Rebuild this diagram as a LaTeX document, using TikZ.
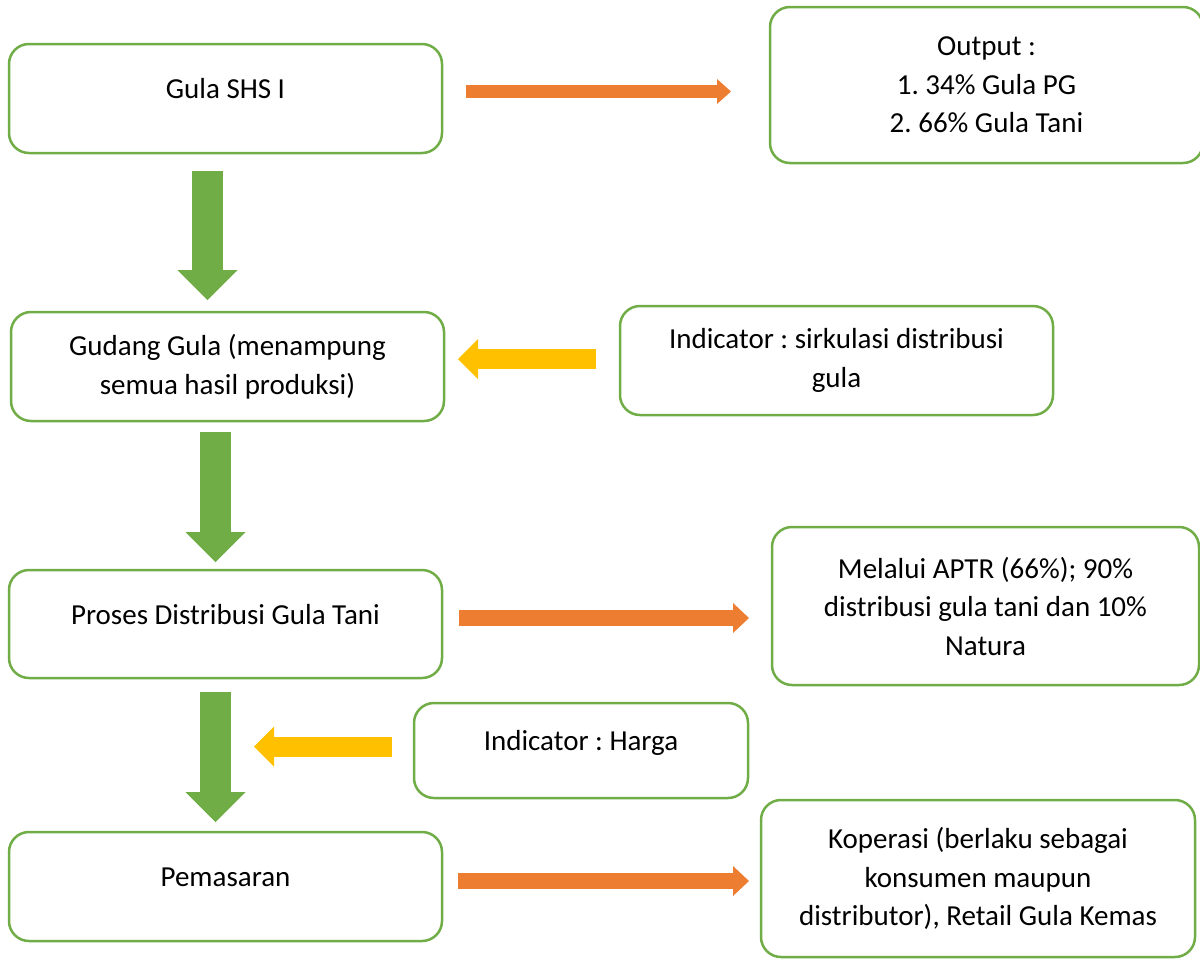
\documentclass[tikz,border=0pt]{standalone}
\usepackage{fontspec}
\setmainfont{Carlito}
\usetikzlibrary{arrows.meta}
\definecolor{boxgreen}{HTML}{70AD47}
\definecolor{arrorange}{HTML}{ED7D31}
\definecolor{arryellow}{HTML}{FFC000}
\frenchspacing
\begin{document}
\begin{tikzpicture}[x=1pt, y=-1pt, font=\fontsize{29}{38.5}\selectfont,
  box/.style={draw=boxgreen, line width=2.5pt, rounded corners=20pt,
    align=center, inner sep=0pt},
  wide/.style={box, minimum width=433pt, minimum height=109pt},
  oneline/.style={text height=20pt, text depth=20pt},
  down/.style={draw=boxgreen, line width=31pt,
    -{Triangle[length=30pt, width=60pt, line width=0pt]}},
  right/.style={draw=arrorange, line width=16pt,
    -{Triangle[length=16pt, width=30pt, line width=0pt]}},
  left/.style={draw=arryellow, line width=20pt,
    -{Triangle[length=20pt, width=40pt, line width=0pt]}}]
  \useasboundingbox (0,0) rectangle (1200,959);
  % left column
  \node[wide, oneline] (shs) at (225.5,98.5) {Gula SHS I};
  \node[wide] (gudang) at (227.5,366.5) {Gudang Gula (menampung\\semua hasil produksi)};
  \node[wide, oneline, minimum height=108pt] (proses) at (225.5,624) {Proses Distribusi Gula Tani};
  \node[wide, oneline] (pasar) at (225.5,886.5) {Pemasaran};
  % right column
  \node[box, minimum width=433pt, minimum height=156pt] (output) at (986.5,85)
    {Output :\\1. 34\% Gula PG\\2. 66\% Gula Tani};
  \node[wide] (sirkulasi) at (836.5,360.5) {Indicator : sirkulasi distribusi\\gula};
  \node[box, minimum width=427pt, minimum height=158pt] (aptr) at (985.5,606)
    {Melalui APTR (66\%); 90\%\\distribusi gula tani dan 10\%\\Natura};
  \node[box, oneline, minimum width=334pt, minimum height=95pt] (harga) at (581,750.5)
    {Indicator : Harga};
  \node[box, minimum width=434pt, minimum height=157pt] (koperasi) at (978,878.5)
    {Koperasi (berlaku sebagai\\konsumen maupun\\distributor), Retail Gula Kemas};
  % arrow ends
  \coordinate (d1a) at (207.5,171);  \coordinate (d1b) at (207.5,300);
  \coordinate (d2a) at (215.5,432);  \coordinate (d2b) at (215.5,562);
  \coordinate (d3a) at (215.5,692);  \coordinate (d3b) at (215.5,822);
  \coordinate (r1a) at (466,91.5);   \coordinate (r1b) at (731,91.5);
  \coordinate (r2a) at (459,618);    \coordinate (r2b) at (749,618);
  \coordinate (r3a) at (458,881);    \coordinate (r3b) at (749,881);
  \coordinate (l1a) at (596,359);    \coordinate (l1b) at (458,359);
  \coordinate (l2a) at (392,746.5);  \coordinate (l2b) at (254,746.5);
  % block arrows
  \draw[down] (d1a) -- (d1b);
  \draw[down] (d2a) -- (d2b);
  \draw[down] (d3a) -- (d3b);
  \draw[right, line width=13pt, -{Triangle[length=14pt, width=25pt, line width=0pt]}] (r1a) -- (r1b);
  \draw[right] (r2a) -- (r2b);
  \draw[right] (r3a) -- (r3b);
  \draw[left] (l1a) -- (l1b);
  \draw[left] (l2a) -- (l2b);
\end{tikzpicture}
\end{document}
